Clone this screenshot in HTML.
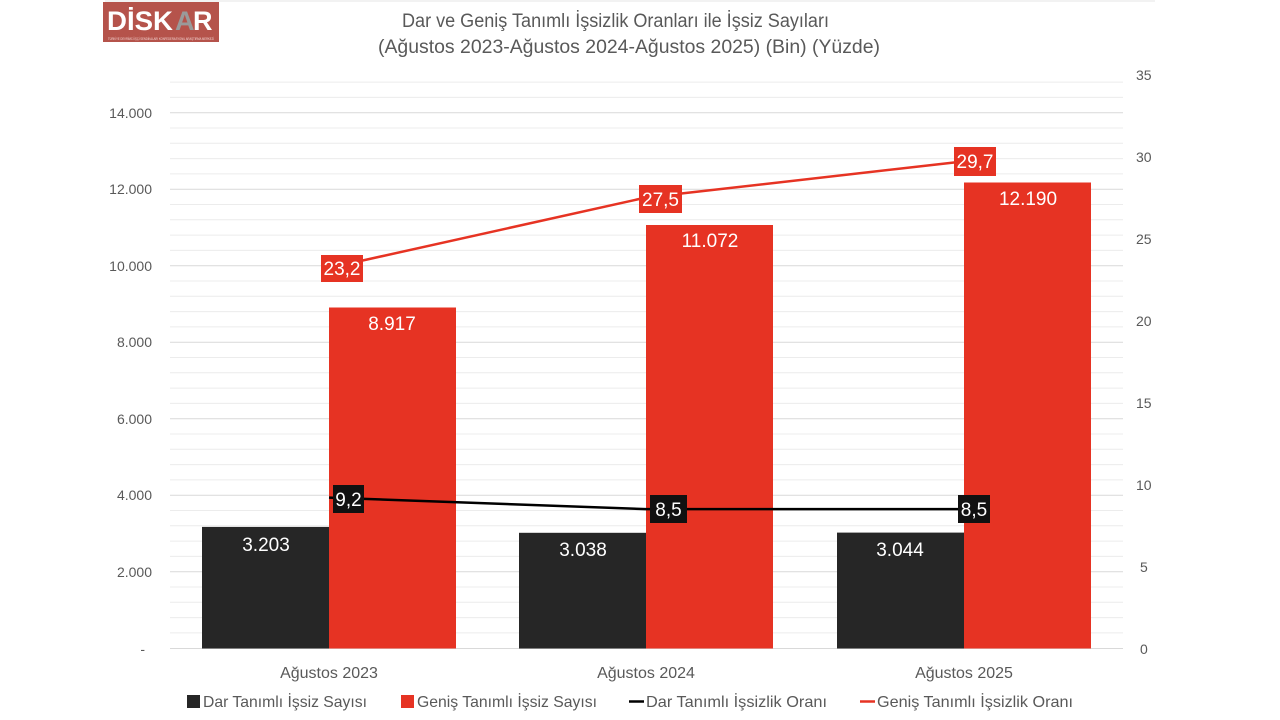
<!DOCTYPE html>
<html>
<head>
<meta charset="utf-8">
<style>
html,body{margin:0;padding:0;background:#fff;}
svg{display:block;}
text{font-family:"Liberation Sans",sans-serif;}
</style>
</head>
<body>
<svg width="1280" height="720" viewBox="0 0 1280 720" xmlns="http://www.w3.org/2000/svg">
<rect width="1280" height="720" fill="#fff"/>
<!-- faint top rule -->
<line x1="105" y1="1" x2="1155" y2="1" stroke="#e6e6e6" stroke-width="1"/>

<!-- logo -->
<rect x="103" y="2" width="116" height="40" fill="#b5534b"/>
<text x="107" y="30" font-size="27" font-weight="bold" fill="#fff" font-family="Liberation Serif" textLength="66" lengthAdjust="spacingAndGlyphs">DİSK</text>
<text x="175" y="30" font-size="27" font-weight="bold" fill="#9a9a9a" font-family="Liberation Sans">A</text>
<text x="193" y="30" font-size="27" font-weight="bold" fill="#fff" font-family="Liberation Serif">R</text>
<text x="108" y="40" font-size="4" fill="#f3d7d4" textLength="106" lengthAdjust="spacingAndGlyphs">TÜRKİYE DEVRİMCİ İŞÇİ SENDİKALARI KONFEDERASYONU ARAŞTIRMA MERKEZİ</text>

<!-- title -->
<text x="402" y="27" font-size="19" fill="#595959" textLength="427" lengthAdjust="spacingAndGlyphs">Dar ve Geniş Tanımlı İşsizlik Oranları ile İşsiz Sayıları</text>
<text x="378" y="53" font-size="19" fill="#595959" textLength="502" lengthAdjust="spacingAndGlyphs">(Ağustos 2023-Ağustos 2024-Ağustos 2025) (Bin) (Yüzde)</text>

<!-- gridlines -->
<g stroke-width="1">
<line x1="170" x2="1123" y1="82.1" y2="82.1" stroke="#ececec"/>
<line x1="170" x2="1123" y1="97.4" y2="97.4" stroke="#ececec"/>
<line x1="170" x2="1123" y1="112.7" y2="112.7" stroke="#d9d9d9"/>
<line x1="170" x2="1123" y1="128.0" y2="128.0" stroke="#ececec"/>
<line x1="170" x2="1123" y1="143.3" y2="143.3" stroke="#ececec"/>
<line x1="170" x2="1123" y1="158.6" y2="158.6" stroke="#ececec"/>
<line x1="170" x2="1123" y1="173.9" y2="173.9" stroke="#ececec"/>
<line x1="170" x2="1123" y1="189.2" y2="189.2" stroke="#d9d9d9"/>
<line x1="170" x2="1123" y1="204.5" y2="204.5" stroke="#ececec"/>
<line x1="170" x2="1123" y1="219.8" y2="219.8" stroke="#ececec"/>
<line x1="170" x2="1123" y1="235.1" y2="235.1" stroke="#ececec"/>
<line x1="170" x2="1123" y1="250.4" y2="250.4" stroke="#ececec"/>
<line x1="170" x2="1123" y1="265.7" y2="265.7" stroke="#d9d9d9"/>
<line x1="170" x2="1123" y1="281.0" y2="281.0" stroke="#ececec"/>
<line x1="170" x2="1123" y1="296.3" y2="296.3" stroke="#ececec"/>
<line x1="170" x2="1123" y1="311.6" y2="311.6" stroke="#ececec"/>
<line x1="170" x2="1123" y1="326.9" y2="326.9" stroke="#ececec"/>
<line x1="170" x2="1123" y1="342.2" y2="342.2" stroke="#d9d9d9"/>
<line x1="170" x2="1123" y1="357.5" y2="357.5" stroke="#ececec"/>
<line x1="170" x2="1123" y1="372.8" y2="372.8" stroke="#ececec"/>
<line x1="170" x2="1123" y1="388.1" y2="388.1" stroke="#ececec"/>
<line x1="170" x2="1123" y1="403.4" y2="403.4" stroke="#ececec"/>
<line x1="170" x2="1123" y1="418.7" y2="418.7" stroke="#d9d9d9"/>
<line x1="170" x2="1123" y1="434.0" y2="434.0" stroke="#ececec"/>
<line x1="170" x2="1123" y1="449.3" y2="449.3" stroke="#ececec"/>
<line x1="170" x2="1123" y1="464.6" y2="464.6" stroke="#ececec"/>
<line x1="170" x2="1123" y1="479.9" y2="479.9" stroke="#ececec"/>
<line x1="170" x2="1123" y1="495.2" y2="495.2" stroke="#d9d9d9"/>
<line x1="170" x2="1123" y1="510.5" y2="510.5" stroke="#ececec"/>
<line x1="170" x2="1123" y1="525.8" y2="525.8" stroke="#ececec"/>
<line x1="170" x2="1123" y1="541.1" y2="541.1" stroke="#ececec"/>
<line x1="170" x2="1123" y1="556.4" y2="556.4" stroke="#ececec"/>
<line x1="170" x2="1123" y1="571.7" y2="571.7" stroke="#d9d9d9"/>
<line x1="170" x2="1123" y1="587.0" y2="587.0" stroke="#ececec"/>
<line x1="170" x2="1123" y1="602.3" y2="602.3" stroke="#ececec"/>
<line x1="170" x2="1123" y1="617.6" y2="617.6" stroke="#ececec"/>
<line x1="170" x2="1123" y1="632.9" y2="632.9" stroke="#ececec"/>
<line x1="170" x2="1123" y1="648.5" y2="648.5" stroke="#d9d9d9"/>
</g>

<!-- left axis labels -->
<g font-size="14" fill="#595959" text-anchor="end">
<text x="152" y="118">14.000</text>
<text x="152" y="194">12.000</text>
<text x="152" y="271">10.000</text>
<text x="152" y="347">8.000</text>
<text x="152" y="424">6.000</text>
<text x="152" y="500">4.000</text>
<text x="152" y="577">2.000</text>
<text x="145" y="654">-</text>
</g>
<!-- right axis labels -->
<g font-size="14" fill="#595959" text-anchor="start">
<text x="1136" y="80">35</text>
<text x="1136" y="162">30</text>
<text x="1136" y="244">25</text>
<text x="1136" y="326">20</text>
<text x="1136" y="408">15</text>
<text x="1136" y="490">10</text>
<text x="1140" y="572">5</text>
<text x="1140" y="654">0</text>
</g>

<!-- bars -->
<rect x="202" y="526.9" width="127" height="121.6" fill="#262626"/>
<rect x="329" y="307.5" width="127" height="341" fill="#e63323"/>
<rect x="519" y="532.8" width="127" height="115.7" fill="#262626"/>
<rect x="646" y="225" width="127" height="423.5" fill="#e63323"/>
<rect x="837" y="532.6" width="127" height="115.9" fill="#262626"/>
<rect x="964" y="182.5" width="127" height="466" fill="#e63323"/>

<!-- bar labels -->
<g font-size="19" fill="#fff" text-anchor="middle">
<text x="266" y="551">3.203</text>
<text x="392" y="330">8.917</text>
<text x="583" y="556">3.038</text>
<text x="710" y="247">11.072</text>
<text x="900" y="556">3.044</text>
<text x="1028" y="205">12.190</text>
</g>

<!-- lines -->
<polyline points="329,268 646,197.5 964,161.4" fill="none" stroke="#e63323" stroke-width="2.5"/>
<polyline points="329,497.6 646,509.1 964,509.1" fill="none" stroke="#000" stroke-width="2.5"/>

<!-- rate labels -->
<rect x="321" y="255" width="42" height="27" fill="#e63323"/>
<text x="342" y="275" font-size="19" fill="#fff" text-anchor="middle">23,2</text>
<rect x="639" y="185" width="43" height="28" fill="#e63323"/>
<text x="660.5" y="206" font-size="19" fill="#fff" text-anchor="middle">27,5</text>
<rect x="954" y="147" width="42" height="29" fill="#e63323"/>
<text x="975" y="168" font-size="19" fill="#fff" text-anchor="middle">29,7</text>

<rect x="333" y="485" width="31" height="28" fill="#111"/>
<text x="348.5" y="506" font-size="19" fill="#fff" text-anchor="middle">9,2</text>
<rect x="650" y="495" width="37" height="28" fill="#111"/>
<text x="668.5" y="516" font-size="19" fill="#fff" text-anchor="middle">8,5</text>
<rect x="958" y="495" width="32" height="28" fill="#111"/>
<text x="974" y="516" font-size="19" fill="#fff" text-anchor="middle">8,5</text>

<!-- category labels -->
<g font-size="16" fill="#595959" text-anchor="middle">
<text x="329" y="678">Ağustos 2023</text>
<text x="646" y="678">Ağustos 2024</text>
<text x="964" y="678">Ağustos 2025</text>
</g>

<!-- legend -->
<rect x="187" y="695" width="13" height="13" fill="#262626"/>
<text x="203" y="707" font-size="16" fill="#595959" textLength="164" lengthAdjust="spacingAndGlyphs">Dar Tanımlı İşsiz Sayısı</text>
<rect x="401" y="695" width="13" height="13" fill="#e63323"/>
<text x="417" y="707" font-size="16" fill="#595959" textLength="180" lengthAdjust="spacingAndGlyphs">Geniş Tanımlı İşsiz Sayısı</text>
<line x1="629" y1="701.5" x2="644" y2="701.5" stroke="#000" stroke-width="2.5"/>
<text x="646" y="707" font-size="16" fill="#595959" textLength="181" lengthAdjust="spacingAndGlyphs">Dar Tanımlı İşsizlik Oranı</text>
<line x1="860" y1="701.5" x2="875" y2="701.5" stroke="#e63323" stroke-width="2.5"/>
<text x="877" y="707" font-size="16" fill="#595959" textLength="196" lengthAdjust="spacingAndGlyphs">Geniş Tanımlı İşsizlik Oranı</text>
</svg>
</body>
</html>
